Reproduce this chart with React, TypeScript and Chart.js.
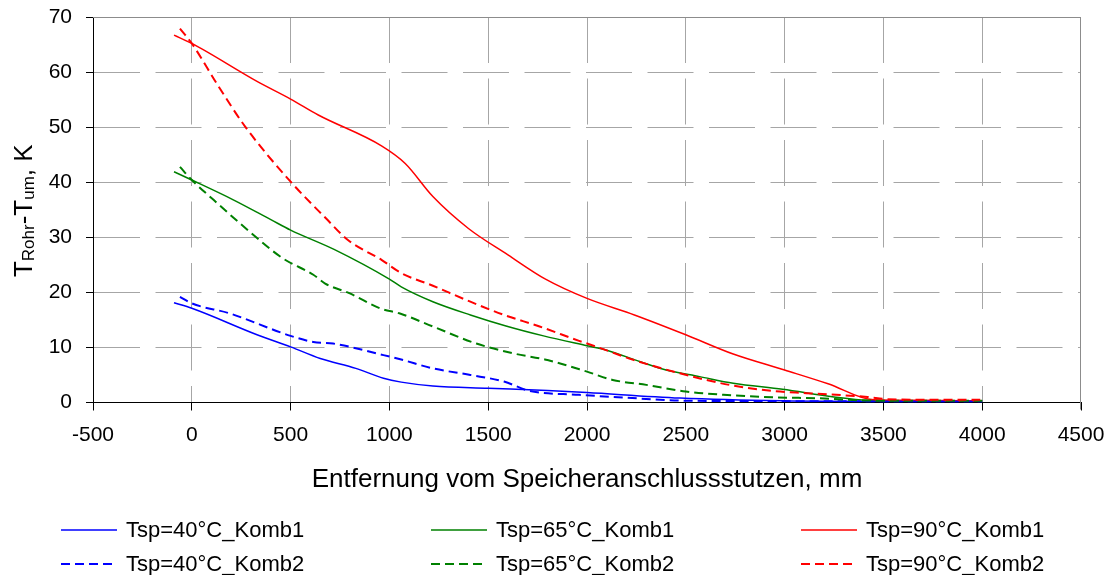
import React, { useEffect, useRef } from 'react';
import { Chart, registerables } from 'chart.js';

Chart.register(...registerables);

// ---- data ----
const xTickMin = -500;
const xTickMax = 4500;
const xTickStep = 500;
const yTickMin = 0;
const yTickMax = 70;
const yTickStep = 10;

const seriesLabels = [
  'Tsp=40°C_Komb1',
  'Tsp=65°C_Komb1',
  'Tsp=90°C_Komb1',
  'Tsp=40°C_Komb2',
  'Tsp=65°C_Komb2',
  'Tsp=90°C_Komb2',
];

const blue1X = [-90, 0, 330, 500, 650, 830, 970, 1060, 1220, 1500, 1800, 2000, 2470, 2980, 3500, 4000];
const blue1Y = [18.1, 17.1, 12.3, 10.1, 8.0, 6.2, 4.4, 3.7, 3.0, 2.6, 2.2, 1.8, 0.8, 0.3, 0.2, 0.2];

const green1X = [-90, 0, 210, 400, 500, 720, 1000, 1060, 1220, 1410, 1590, 1780, 2000, 2100, 2270, 2400, 2570, 2740, 2990, 3250, 3420, 3700, 4000];
const green1Y = [41.9, 40.4, 36.8, 33.2, 31.3, 27.8, 22.4, 21.0, 18.3, 15.9, 13.9, 12.1, 10.3, 9.5, 7.4, 5.9, 4.7, 3.5, 2.4, 1.0, 0.4, 0.3, 0.3];

const red1X = [-90, 0, 330, 500, 640, 960, 1080, 1220, 1400, 1600, 1790, 2000, 2240, 2500, 2740, 3000, 3220, 3450, 3700, 4000];
const red1Y = [66.7, 65.2, 58.3, 55.1, 52.2, 46.6, 43.4, 37.4, 31.6, 26.8, 22.4, 18.9, 15.9, 12.3, 8.8, 5.9, 3.4, 0.5, 0.4, 0.3];

const blue2X = [-60, 0, 190, 500, 615, 715, 970, 1060, 1220, 1410, 1580, 1710, 1960, 2230, 2470, 3000, 3500, 4000];
const blue2Y = [19.2, 18.0, 16.2, 12.1, 11.0, 10.7, 8.6, 7.8, 6.2, 5.0, 3.8, 2.1, 1.4, 0.8, 0.35, 0.25, 0.2, 0.2];

const green2X = [-60, 0, 110, 245, 460, 615, 675, 800, 960, 1050, 1220, 1440, 1630, 1800, 2000, 2130, 2300, 2500, 2690, 2940, 3180, 3420, 3700, 4000];
const green2Y = [42.8, 40.4, 36.8, 32.5, 26.2, 23.2, 21.6, 19.8, 17.0, 16.2, 13.8, 10.7, 8.9, 7.7, 5.6, 4.1, 3.2, 2.0, 1.4, 0.95, 0.75, 0.35, 0.3, 0.3];

const red2X = [-60, 0, 130, 270, 500, 680, 790, 960, 1060, 1220, 1390, 1580, 1760, 1960, 2050, 2230, 2470, 2720, 2940, 3110, 3420, 3520, 3790, 3990];
const red2Y = [67.9, 65.2, 57.7, 50.1, 40.1, 33.4, 29.5, 25.9, 23.5, 21.2, 18.6, 15.9, 13.8, 11.2, 10.1, 7.8, 5.3, 3.2, 2.1, 1.7, 1.0, 0.6, 0.5, 0.5];

const xTitle = 'Entfernung vom Speicheranschlussstutzen, mm';
const yTitleParts = [
  { text: 'T', sub: false },
  { text: 'Rohr', sub: true },
  { text: '-T', sub: false },
  { text: 'um', sub: true },
  { text: ', K', sub: false },
];

// ---- style ----
const FONT = "'Liberation Sans', Arial, sans-serif";
const BLUE = '#0000FF';
const GREEN = '#008000';
const RED = '#FF0000';
const DASH = [9, 5];

const toPoints = (xs: number[], ys: number[]) => xs.map((x, i) => ({ x, y: ys[i] }));

const decorPlugin = {
  id: 'decor',
  beforeDatasetsDraw(chart: any) {
    const { ctx, chartArea } = chart;
    const xs = chart.scales.x;
    const rx = Math.round(xs.getPixelForValue(xTickMax)) - 0.5;
    const ty = Math.round(chartArea.top) + 0.5;
    ctx.save();
    ctx.strokeStyle = '#8c8c8c';
    ctx.lineWidth = 1;
    ctx.beginPath();
    ctx.moveTo(chartArea.left, ty);
    ctx.lineTo(chartArea.right, ty);
    ctx.moveTo(rx, chartArea.top);
    ctx.lineTo(rx, chartArea.bottom + 7);
    ctx.stroke();
    ctx.restore();
  },
  afterDraw(chart: any) {
    const { ctx, chartArea } = chart;
    ctx.save();
    ctx.fillStyle = '#000';

    // x title
    ctx.font = `26px ${FONT}`;
    ctx.textAlign = 'center';
    ctx.textBaseline = 'alphabetic';
    ctx.fillText(xTitle, (chartArea.left + chartArea.right) / 2, 487);

    // y title with subscripts
    const bigFont = `26px ${FONT}`;
    const smallFont = `17px ${FONT}`;
    let total = 0;
    const widths = yTitleParts.map((p) => {
      ctx.font = p.sub ? smallFont : bigFont;
      const w = ctx.measureText(p.text).width;
      total += w;
      return w;
    });
    ctx.save();
    ctx.translate(32, (chartArea.top + chartArea.bottom) / 2 + 1);
    ctx.rotate(-Math.PI / 2);
    ctx.textAlign = 'left';
    let px = -total / 2;
    yTitleParts.forEach((p, i) => {
      ctx.font = p.sub ? smallFont : bigFont;
      ctx.fillText(p.text, px, p.sub ? 2 : 0);
      px += widths[i];
    });
    ctx.restore();

    // legend (3 columns x 2 rows)
    const colStarts = [61, 431, 801];
    const rowYs = [530, 564];
    ctx.font = `22px ${FONT}`;
    ctx.textAlign = 'left';
    ctx.textBaseline = 'middle';
    chart.data.datasets.forEach((ds: any, i: number) => {
      const col = i % 3;
      const row = Math.floor(i / 3);
      const x0 = colStarts[col];
      const y0 = rowYs[row];
      ctx.save();
      ctx.strokeStyle = ds.borderColor;
      ctx.lineWidth = ds.borderDash && ds.borderDash.length ? 2 : 1.4;
      ctx.setLineDash(ds.borderDash || []);
      ctx.beginPath();
      ctx.moveTo(x0, y0);
      ctx.lineTo(x0 + 56, y0);
      ctx.stroke();
      ctx.restore();
      ctx.fillStyle = '#000';
      ctx.fillText(ds.label, x0 + 65, y0 + 1);
    });
    ctx.restore();
  },
};

export default function App() {
  const ref = useRef<HTMLCanvasElement | null>(null);

  useEffect(() => {
    if (!ref.current) return;
    const mk = (label: string, xs: number[], ys: number[], color: string, dashed: boolean, order: number) => ({
      label,
      data: toPoints(xs, ys),
      borderColor: color,
      backgroundColor: color,
      borderWidth: dashed ? 2 : 1.5,
      borderDash: dashed ? DASH : [],
      pointRadius: 0,
      fill: false,
      showLine: true,
      tension: 0,
      cubicInterpolationMode: 'monotone' as const,
      order,
    });

    const chart = new Chart(ref.current, {
      type: 'line',
      data: {
        datasets: [
          mk(seriesLabels[0], blue1X, blue1Y, BLUE, false, 5),
          mk(seriesLabels[1], green1X, green1Y, GREEN, false, 4),
          mk(seriesLabels[2], red1X, red1Y, RED, false, 3),
          mk(seriesLabels[3], blue2X, blue2Y, BLUE, true, 2),
          mk(seriesLabels[4], green2X, green2Y, GREEN, true, 1),
          mk(seriesLabels[5], red2X, red2Y, RED, true, 0),
        ],
      },
      options: {
        responsive: false,
        animation: false,
        layout: { padding: { left: 0, top: 17, right: 30, bottom: 132.5 } },
        plugins: {
          legend: { display: false },
          tooltip: { enabled: false },
          title: { display: false },
        },
        scales: {
          x: {
            type: 'linear',
            min: xTickMin,
            max: xTickMax,
            afterFit: (s: any) => {
              s.height = 40;
              s.paddingLeft = 0;
              s.paddingRight = 0;
            },
            ticks: {
              stepSize: xTickStep,
              color: '#000',
              padding: 12,
              maxRotation: 0,
              autoSkip: false,
              font: { family: FONT, size: 21 },
              callback: (v: any) => String(v),
            },
            grid: {
              color: (c: any) => (c.tick && (c.tick.value === xTickMin || c.tick.value === xTickMax) ? 'rgba(0,0,0,0)' : '#a6a6a6'),
              lineWidth: 1,
              tickLength: 8,
              tickColor: '#000',
            },
            border: { display: true, color: '#000', width: 1, dash: [46, 15.5] },
          },
          y: {
            type: 'linear',
            min: yTickMin,
            max: yTickMax,
            afterFit: (s: any) => {
              s.width = 93;
              s.paddingTop = 0;
              s.paddingBottom = 0;
            },
            ticks: {
              stepSize: yTickStep,
              color: '#000',
              padding: 14,
              font: { family: FONT, size: 21 },
            },
            grid: {
              color: (c: any) => (c.tick && (c.tick.value === yTickMin || c.tick.value === yTickMax) ? 'rgba(0,0,0,0)' : '#a6a6a6'),
              lineWidth: 1,
              tickLength: 7,
              tickColor: '#000',
            },
            border: { display: true, color: '#000', width: 1, dash: [46, 15.5] },
          },
        },
      },
      plugins: [decorPlugin],
    } as any);

    return () => chart.destroy();
  }, []);

  return (
    <div style={{ position: 'absolute', left: 0, top: 0, width: 1111, height: 575, background: '#fff' }}>
      <canvas ref={ref} width={1111} height={575} style={{ display: 'block' }} />
    </div>
  );
}
